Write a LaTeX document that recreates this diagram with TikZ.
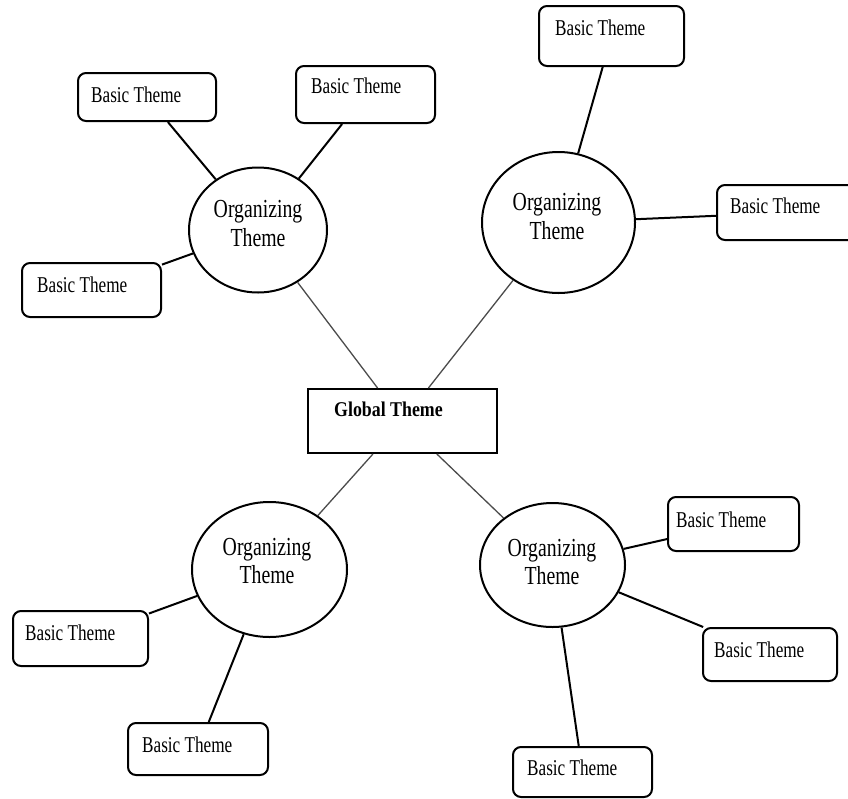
\documentclass[tikz,border=0pt]{standalone}
\usepackage{fontspec}
\setmainfont{Liberation Serif}[FakeStretch=0.76]
\newfontfamily\gfont{Liberation Serif}[FakeStretch=0.85]
\usetikzlibrary{shapes.geometric}
\begin{document}
\begin{tikzpicture}[x=1pt,y=-1pt,
 bbox/.style={draw, line width=2pt, rounded corners=8pt, inner sep=0},
 oval/.style={draw, ellipse, line width=2pt, inner sep=0},
 gbox/.style={draw, line width=2pt, inner sep=0},
 btext/.style={anchor=base west, inner sep=0, font=\fontsize{22.6}{26}\selectfont},
 otext/.style={align=center, inner sep=0, font=\fontsize{26}{28.5}\selectfont},
 gtext/.style={anchor=base west, inner sep=0, font=\fontsize{21}{24}\gfont\bfseries},
 link/.style={line width=2pt},
 glink/.style={line width=1.3pt, draw=black!70}]
\clip (0,0) rectangle (848,798);
\fill[white] (0,0) rectangle (848,798);

% global theme
\node[gbox, minimum width=189pt, minimum height=64pt] (g) at (402.5,421) {};
\node[gtext] (gt) at (334,416) {Global Theme};

% organizing themes
\node[oval, minimum width=138pt, minimum height=125pt] (ot1) at (258,230) {};
\node[oval, minimum width=153pt, minimum height=141pt] (ot2) at (558.5,222.5) {};
\node[oval, minimum width=155pt, minimum height=135pt] (ot3) at (269.5,569.5) {};
\node[oval, minimum width=145pt, minimum height=124pt] (ot4) at (552.5,565) {};
\node[otext] (ott1) at (258,223.7) {Organizing\\Theme};
\node[otext] (ott2) at (557,216.7) {Organizing\\Theme};
\node[otext] (ott3) at (267,561) {Organizing\\Theme};
\node[otext] (ott4) at (552,562) {Organizing\\Theme};

% basic themes
\node[bbox, minimum width=138pt, minimum height=48pt] (tl1) at (147,97) {};
\node[bbox, minimum width=139pt, minimum height=57pt] (tl2) at (365.5,94.5) {};
\node[bbox, minimum width=139pt, minimum height=54pt] (tl3) at (91.5,290) {};
\node[bbox, minimum width=145pt, minimum height=60pt] (tr1) at (611.5,36) {};
\node[bbox, minimum width=153pt, minimum height=55pt] (tr2) at (793.5,212.5) {};
\node[bbox, minimum width=135pt, minimum height=55pt] (bl1) at (80.5,638.5) {};
\node[bbox, minimum width=140pt, minimum height=52pt] (bl2) at (198,749) {};
\node[bbox, minimum width=131pt, minimum height=54pt] (br1) at (733.5,524) {};
\node[bbox, minimum width=134pt, minimum height=53pt] (br2) at (770,654.5) {};
\node[bbox, minimum width=139pt, minimum height=50pt] (br3) at (582.5,772) {};

\node[btext] (ttl1) at (91,102) {Basic Theme};
\node[btext] (ttl2) at (311,93) {Basic Theme};
\node[btext] (ttl3) at (37,292) {Basic Theme};
\node[btext] (ttr1) at (555,35) {Basic Theme};
\node[btext] (ttr2) at (730,213) {Basic Theme};
\node[btext] (tbl1) at (25,640) {Basic Theme};
\node[btext] (tbl2) at (142,752) {Basic Theme};
\node[btext] (tbr1) at (676,527) {Basic Theme};
\node[btext] (tbr2) at (714,657) {Basic Theme};
\node[btext] (tbr3) at (527,775) {Basic Theme};

% connectors
\draw[glink] (g) -- (ot1);
\draw[glink] (g) -- (ot2);
\draw[glink] (g) -- (ot3);
\draw[glink] (g) -- (ot4);

\draw[link] (tl1) -- (ot1);
\draw[link] (tl2) -- (ot1);
\draw[link] (tl3) -- (ot1);
\draw[link] (tr1) -- (ot2);
\draw[link] (tr2) -- (ot2);
\draw[link] (bl1) -- (ot3);
\draw[link] (bl2) -- (ot3);
\draw[link] (br1) -- (ot4);
\draw[link] (br2) -- (ot4);
\draw[link] (br3) -- (ot4);
\end{tikzpicture}
\end{document}
